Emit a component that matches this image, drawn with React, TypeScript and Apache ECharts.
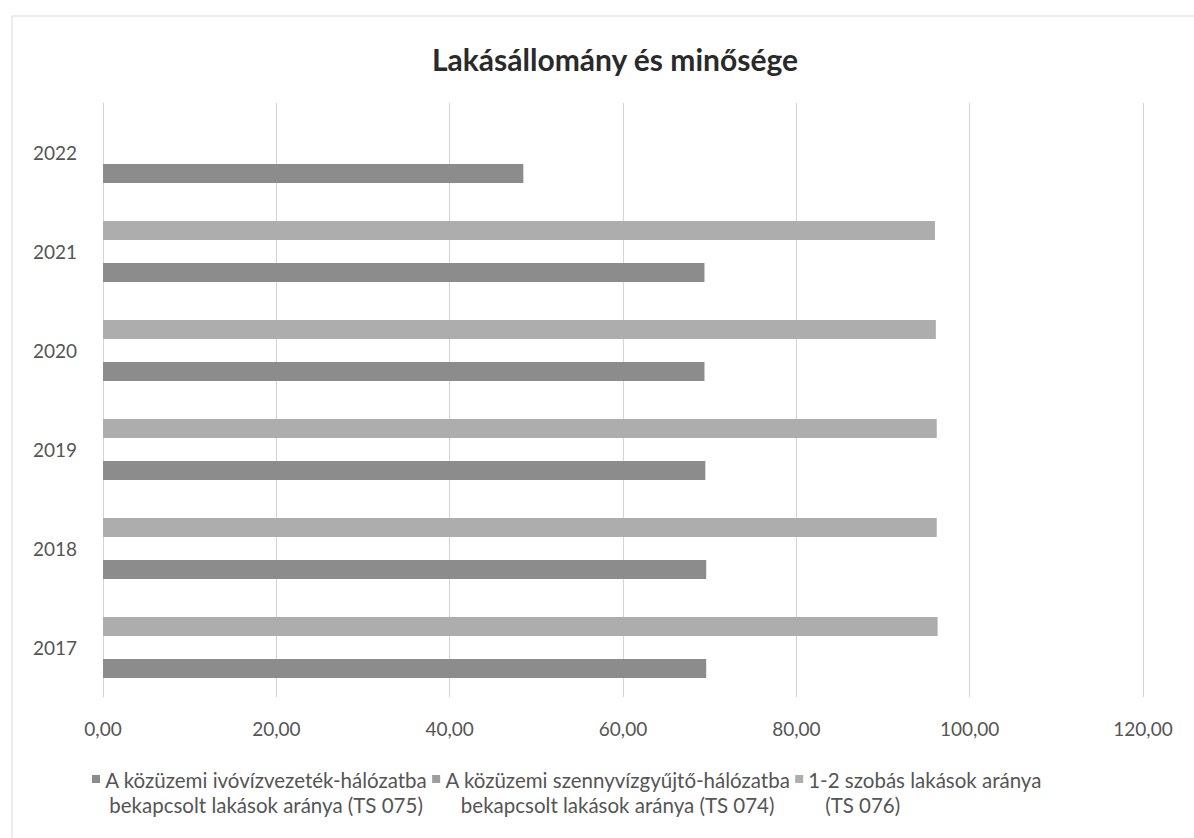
import React, { useEffect, useRef } from "react";
import * as echarts from "echarts";

const years = ["2017", "2018", "2019", "2020", "2021", "2022"];
const seriesNames = [
  "A közüzemi ivóvízvezeték-hálózatba bekapcsolt lakások aránya (TS 075)",
  "A közüzemi szennyvízgyűjtő-hálózatba bekapcsolt lakások aránya (TS 074)",
  "1-2 szobás lakások aránya (TS 076)",
];
const legendLines = [
  ["A közüzemi ivóvízvezeték-hálózatba", "bekapcsolt lakások aránya (TS 075)"],
  ["A közüzemi szennyvízgyűjtő-hálózatba", "bekapcsolt lakások aránya (TS 074)"],
  ["1-2 szobás lakások aránya", "(TS 076)"],
];
const ivovizValues = [69.6, 69.6, 69.5, 69.4, 69.4, 48.5];
const szennyvizValues: (number | null)[] = [null, null, null, null, null, null];
const szobasValues: (number | null)[] = [96.3, 96.2, 96.2, 96.1, 96.0, null];
const xMin = 0;
const xMax = 120;
const xStep = 20;
const title = "Lakásállomány és minősége";

const colors = ["#8c8c8c", "#9d9d9d", "#adadad"];
const FONT = "Lato";

export default function App() {
  const ref = useRef<HTMLDivElement>(null);
  useEffect(() => {
    if (!ref.current) return;
    const chart = echarts.init(ref.current, null, { renderer: "svg" });
    const fmt = (v: number) => v.toFixed(2).replace(".", ",");
    const legendFormatter = (name: string) => {
      const i = seriesNames.indexOf(name);
      const [a, b] = legendLines[i];
      if (i === 2) return `{l|${a}}\n{i|${b}}`;
      return `{c|${a}}\n{c|${b}}`;
    };
    const base = { fontSize: 20.5, lineHeight: 25, color: "#555", fontFamily: FONT };
    const legendRich = {
      c: { ...base, align: "center" },
      l: { ...base, align: "left" },
      i: { ...base, align: "left", padding: [0, 0, 0, 17] },
    };
    const mkSeries = (idx: number, data: (number | null)[]) => ({
      name: seriesNames[idx],
      type: "bar",
      data,
      barWidth: 19,
      barGap: "10%",
      itemStyle: { color: colors[idx] },
    });
    chart.setOption({
      animation: false,
      backgroundColor: "#ffffff",
      textStyle: { fontFamily: FONT },
      title: {
        text: title,
        left: 427,
        top: 39,
        textStyle: { fontFamily: FONT, fontSize: 30, fontWeight: "bold", color: "#2a2a2a" },
      },
      graphic: [
        {
          type: "rect",
          shape: { x: 12, y: 16, width: 1200, height: 830 },
          style: { fill: "none", stroke: "#d9d9d9", lineWidth: 1 },
          silent: true,
          z: -1,
        },
      ],
      legend: {
        data: seriesNames,
        left: 87,
        top: 764,
        itemGap: 5,
        itemWidth: 8,
        itemHeight: 34,
        icon: "path://M0,0h8v8h-8z M0,33.8h0.2v0.2h-0.2z",
        formatter: legendFormatter,
        textStyle: { rich: legendRich, color: "#555", fontFamily: FONT, fontSize: 20.5 },
        selectedMode: false,
      },
      grid: { left: 103, right: 51, top: 103, bottom: 141, containLabel: false },
      xAxis: {
        type: "value",
        min: xMin,
        max: xMax,
        interval: xStep,
        axisLine: { show: false },
        axisTick: { show: false },
        splitLine: { lineStyle: { color: "#d4d4d4", width: 1 } },
        axisLabel: {
          formatter: fmt,
          color: "#555",
          fontSize: 19,
          fontFamily: FONT,
          margin: 22,
        },
      },
      yAxis: {
        type: "category",
        data: years,
        axisLine: { show: true, lineStyle: { color: "#d4d4d4" } },
        axisTick: { show: false },
        axisLabel: { color: "#555", fontSize: 19, fontFamily: FONT, margin: 26 },
      },
      series: [mkSeries(2, szobasValues), mkSeries(1, szennyvizValues), mkSeries(0, ivovizValues)],
    });
    return () => chart.dispose();
  }, []);
  return (
    <div
      ref={ref}
      style={{ position: "fixed", left: 0, top: 0, width: 1194, height: 838, background: "#fff" }}
    />
  );
}
